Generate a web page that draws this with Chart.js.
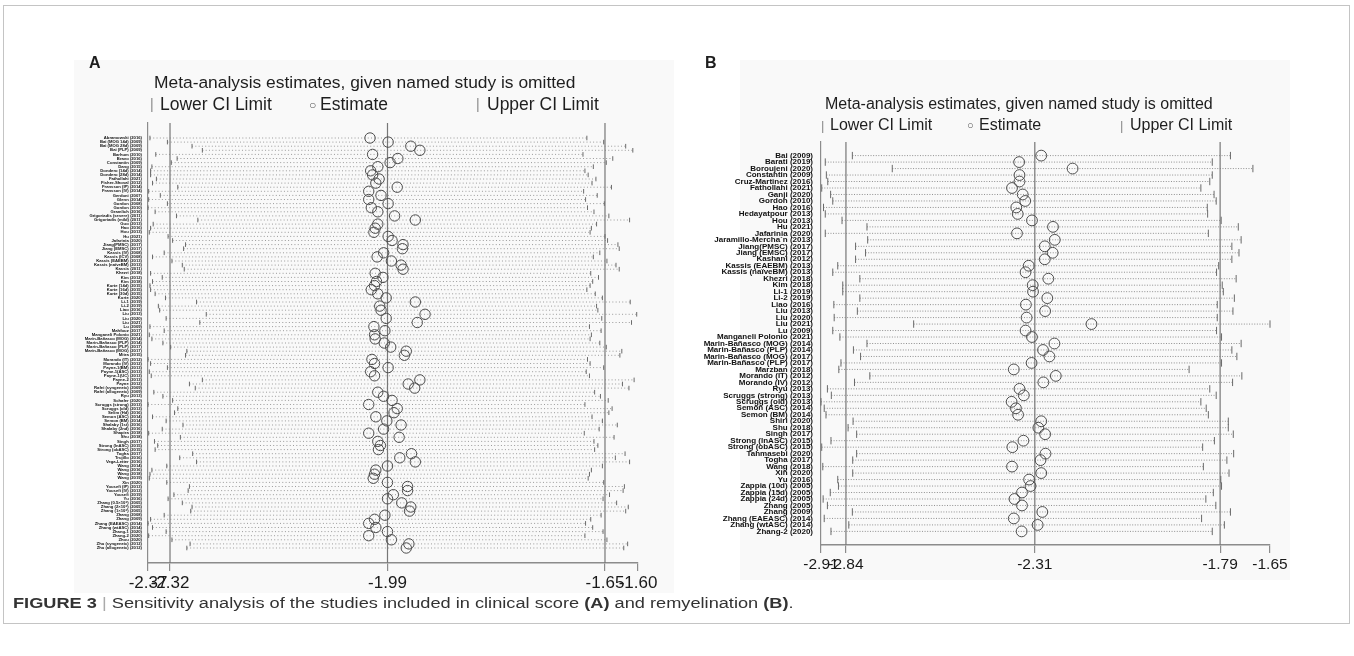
<!DOCTYPE html>
<html><head><meta charset="utf-8">
<script src="https://cdn.jsdelivr.net/npm/chart.js@4.4.1/dist/chart.umd.min.js"></script>
<style>
html,body{margin:0;padding:0;background:#fff;width:1354px;height:656px;overflow:hidden;position:relative;}
#frame{position:absolute;left:3px;top:5px;width:1347px;height:619px;border:1px solid #c4c4c4;box-sizing:border-box;}
.bg{position:absolute;background:#f9f9f9;}
canvas{position:absolute;left:0;top:0;}
.t{position:absolute;font-family:"Liberation Sans",Arial,sans-serif;color:#1e1e1e;white-space:nowrap;line-height:1;}
.mk{color:#8a8a8a;}
.cap{position:absolute;left:13px;top:596px;font-family:"Liberation Sans",Arial,sans-serif;font-size:14px;color:#333;white-space:nowrap;line-height:1;transform:scaleX(1.3);transform-origin:0 0;}
</style></head>
<body>
<div id="frame"></div>
<div class="bg" style="left:74px;top:60px;width:600px;height:533px;"></div>
<div class="bg" style="left:740px;top:60px;width:550px;height:520px;"></div>
<canvas id="cA" width="1354" height="656"></canvas>
<canvas id="cB" width="1354" height="656"></canvas>

<div class="t" style="left:89px;top:55px;font-size:16px;font-weight:bold;">A</div>
<div class="t" style="left:154px;top:74px;font-size:17.4px;">Meta-analysis estimates, given named study is omitted</div>
<div class="t mk" style="left:150px;top:97px;font-size:14px;">|</div>
<div class="t" style="left:160px;top:95.5px;font-size:17.5px;">Lower CI Limit</div>
<div class="t mk" style="left:309px;top:99px;font-size:12px;color:#555;">○</div>
<div class="t" style="left:320px;top:95.5px;font-size:17.5px;">Estimate</div>
<div class="t mk" style="left:476px;top:97px;font-size:14px;">|</div>
<div class="t" style="left:487px;top:95.5px;font-size:17.5px;">Upper CI Limit</div>

<div class="t" style="left:705px;top:55px;font-size:16px;font-weight:bold;">B</div>
<div class="t" style="left:825px;top:96px;font-size:16px;">Meta-analysis estimates, given named study is omitted</div>
<div class="t mk" style="left:821px;top:119px;font-size:13px;">|</div>
<div class="t" style="left:830px;top:117px;font-size:16px;">Lower CI Limit</div>
<div class="t mk" style="left:967px;top:120px;font-size:11px;color:#555;">○</div>
<div class="t" style="left:979px;top:117px;font-size:16px;">Estimate</div>
<div class="t mk" style="left:1120px;top:119px;font-size:13px;">|</div>
<div class="t" style="left:1130px;top:117px;font-size:16px;">Upper CI Limit</div>

<div class="cap"><b>FIGURE 3</b> <span style="color:#aaa">|</span> Sensitivity analysis of the studies included in clinical score <b>(A)</b> and remyelination <b>(B)</b>.</div>

<script>
// ---------- Panel A: clinical score ----------
const studiesA = [
"Abramowski (2016)","Bai (MOG 14d) (2009)","Bai (MOG 28d) (2009)","Bai (PLP) (2009)","Barhum (2010)",
"Bravo (2016)","Constantin (2009)","Dang (2015)","Dondero (14d) (2014)","Dondero (28d) (2014)",
"Fathollahi (2021)","Fisher-Shoval (2012)","Fransson (IP) (2014)","Fransson (IV) (2014)","Gerdoni (2007)",
"Glenn (2014)","Gordon (2008)","Gordon (2010)","Gramlich (2016)","Grigoriadis (severe) (2011)",
"Grigoriadis (mild) (2011)","Guo (2013)","Hao (2016)","Hou (2013)","Hu (2021)",
"Jafarinia (2020)","Jiang(PMSC) (2017)","Jiang (EMSC) (2017)","Kassis (IV) (2008)","Kassis (ICV) (2008)",
"Kassis (EAEBM) (2013)","Kassis (naïveBM) (2013)","Kassis (2011)","Khezri (2018)","Kim (2012)",
"Kim (2018)","Kurte (14d) (2015)","Kurte (16d) (2015)","Kurte (30d) (2015)","Kurte (2020)",
"Li-1 (2019)","Li-2 (2019)","Liao (2016)","Liu (2013)","Liu (2020)",
"Liu (2021)","Lu (2009)","Mahfouz (2017)","Manganeli Polonio (2021)","Marin-Bañasco (MOG) (2014)",
"Marin-Bañasco (PLP) (2014)","Marin-Bañasco (PLP) (2017)","Marin-Bañasco (MOG) (2017)","Mitra (2015)","Morando (IT) (2012)",
"Morando (IV) (2012)","Payne-1(BM) (2013)","Payne-1(ASC) (2013)","Payne-1(UC) (2013)","Payne-2 (2013)",
"Payne (2012)","Rafei (syngeneic) (2009)","Rafei (allogeneic) (2009)","Ryu (2013)","Schafer (2020)",
"Scruggs (strong) (2013)","Scruggs (old) (2013)","Selim (Hd) (2016)","Semon (ASC) (2014)","Semon (BM) (2014)",
"Shalaby (1st) (2016)","Shalaby (2nd) (2016)","Shapira (2018)","Shu (2018)","Singh (2017)",
"Strong (lnASC) (2015)","Strong (obASC) (2015)","Togha (2017)","Trujillo (2016)","Vega-Letter (2016)",
"Wang (2014)","Wang (2016)","Wang (2018)","Wang (2019)","Xin (2020)",
"Yousefi (IP) (2013)","Yousefi (IV) (2013)","Yousefi (2019)","Yu (2016)","Zhang (0.5×10⁶) (2005)",
"Zhang (2×10⁶) (2005)","Zhang (1×10⁶) (2005)","Zhang (2008)","Zhang (2009)","Zhang (EAEASC) (2014)",
"Zhang (wtASC) (2014)","Zhang-1 (2020)","Zhang-2 (2020)","Zhou (2020)","Zhu (syngeneic) (2012)",
"Zhu (allogeneic) (2012)"];
const estimateA = [-2.013,-1.985,-1.950,-1.936,-2.009,-1.970,-1.982,-2.001,-2.012,-2.009,
-1.999,-2.004,-1.971,-2.015,-1.996,-2.015,-1.985,-2.011,-2.001,-1.975,
-1.943,-2.001,-2.005,-2.007,-1.985,-1.979,-1.962,-1.963,-1.992,-2.002,
-1.980,-1.965,-1.962,-2.005,-1.993,-2.003,-2.006,-2.011,-2.001,-1.988,
-1.943,-1.998,-1.996,-1.928,-1.988,-1.940,-2.007,-1.990,-2.006,-2.005,
-1.991,-1.981,-1.957,-1.960,-2.010,-2.006,-1.985,-2.012,-2.006,-1.936,
-1.954,-1.944,-2.001,-1.992,-1.979,-2.015,-1.971,-1.976,-2.004,-1.987,
-1.965,-1.992,-2.015,-1.968,-2.001,-1.997,-2.000,-1.949,-1.967,-1.943,
-1.986,-2.004,-2.006,-2.008,-1.986,-1.955,-1.955,-1.977,-1.986,-1.964,
-1.950,-1.952,-1.990,-2.006,-2.015,-2.004,-1.986,-2.015,-1.980,-1.953,
-1.957];
const lowerA = [-2.353,-2.326,-2.288,-2.272,-2.344,-2.311,-2.320,-2.350,-2.352,-2.352,
-2.343,-2.349,-2.310,-2.355,-2.337,-2.355,-2.326,-2.356,-2.345,-2.312,
-2.279,-2.348,-2.352,-2.354,-2.325,-2.318,-2.298,-2.301,-2.331,-2.349,
-2.319,-2.303,-2.300,-2.352,-2.334,-2.349,-2.353,-2.352,-2.345,-2.329,
-2.281,-2.340,-2.338,-2.266,-2.328,-2.276,-2.353,-2.331,-2.354,-2.350,
-2.333,-2.321,-2.296,-2.298,-2.356,-2.352,-2.326,-2.354,-2.351,-2.272,
-2.292,-2.283,-2.347,-2.333,-2.318,-2.356,-2.310,-2.315,-2.349,-2.328,
-2.302,-2.334,-2.355,-2.306,-2.346,-2.341,-2.345,-2.287,-2.307,-2.281,
-2.327,-2.350,-2.353,-2.354,-2.327,-2.292,-2.294,-2.316,-2.325,-2.303,
-2.288,-2.290,-2.331,-2.352,-2.356,-2.349,-2.328,-2.355,-2.319,-2.291,
-2.296];
const upperA = [-1.678,-1.652,-1.618,-1.607,-1.684,-1.638,-1.648,-1.668,-1.681,-1.676,
-1.664,-1.670,-1.640,-1.683,-1.662,-1.680,-1.651,-1.677,-1.667,-1.644,
-1.612,-1.663,-1.671,-1.673,-1.650,-1.646,-1.630,-1.628,-1.658,-1.668,
-1.647,-1.633,-1.628,-1.672,-1.660,-1.669,-1.673,-1.678,-1.665,-1.654,
-1.611,-1.663,-1.661,-1.601,-1.655,-1.609,-1.674,-1.656,-1.671,-1.673,
-1.658,-1.648,-1.624,-1.627,-1.677,-1.673,-1.652,-1.679,-1.674,-1.605,
-1.623,-1.613,-1.666,-1.657,-1.645,-1.681,-1.639,-1.644,-1.670,-1.654,
-1.631,-1.659,-1.682,-1.636,-1.667,-1.661,-1.666,-1.619,-1.634,-1.612,
-1.654,-1.671,-1.674,-1.676,-1.652,-1.620,-1.622,-1.643,-1.653,-1.632,
-1.614,-1.618,-1.656,-1.672,-1.680,-1.669,-1.653,-1.681,-1.647,-1.615,
-1.621];
const overallA = [-2.322, -1.986, -1.650];          // pooled lower CI, estimate, upper CI
const tickValuesA = [-2.356, -2.322, -1.986, -1.650, -1.599];
const tickLabelsA = ["-2.37", "-2.32", "-1.99", "-1.65", "-1.60"];

// ---------- Panel B: remyelination ----------
const studiesB = [
"Bai (2009)","Barati (2019)","Boroujeni (2020)","Constantin (2009)","Cruz-Martinez (2016)",
"Fathollahi (2021)","Ganji (2020)","Gordon (2010)","Hao (2016)","Hedayatpour (2013)",
"Hou (2013)","Hu (2021)","Jafarinia (2020)","Jaramillo-Mercha´n (2013)","Jiang(PMSC) (2017)",
"Jiang (EMSC) (2017)","Kashani (2012)","Kassis (EAEBM) (2013)","Kassis (naïveBM) (2013)","Khezri (2018)",
"Kim (2018)","Li-1 (2019)","Li-2 (2019)","Liao (2016)","Liu (2013)",
"Liu (2020)","Liu (2021)","Lu (2009)","Manganeli Polonio (2021)","Marin-Bañasco (MOG) (2014)",
"Marin-Bañasco (PLP) (2014)","Marin-Bañasco (MOG) (2017)","Marin-Bañasco (PLP) (2017)","Marzban (2018)","Morando (IT) (2012)",
"Morando (IV) (2012)","Ryu (2013)","Scruggs (strong) (2013)","Scruggs (old) (2013)","Semon (ASC) (2014)",
"Semon (BM) (2014)","Shiri (2020)","Shu (2018)","Singh (2017)","Strong (lnASC) (2015)",
"Strong (obASC) (2015)","Tahmasebi (2020)","Togha (2017)","Wang (2018)","Xin (2020)",
"Yu (2016)","Zappia (10d) (2005)","Zappia (15d) (2005)","Zappia (24d) (2005)","Zhang (2005)",
"Zhang (2009)","Zhang (EAEASC) (2014)","Zhang (wtASC) (2014)","Zhang-2 (2020)"];
const estimateB = [-2.292,-2.354,-2.204,-2.353,-2.353,-2.374,-2.344,-2.337,-2.362,-2.358,
-2.318,-2.259,-2.360,-2.254,-2.282,-2.260,-2.282,-2.327,-2.336,-2.272,
-2.316,-2.315,-2.275,-2.335,-2.281,-2.333,-2.151,-2.336,-2.318,-2.255,
-2.287,-2.269,-2.319,-2.369,-2.251,-2.286,-2.353,-2.341,-2.375,-2.363,
-2.357,-2.292,-2.300,-2.281,-2.342,-2.373,-2.280,-2.294,-2.374,-2.292,
-2.326,-2.322,-2.346,-2.367,-2.346,-2.289,-2.369,-2.302,-2.347];
const lowerB = [-2.822,-2.898,-2.710,-2.895,-2.891,-2.908,-2.883,-2.877,-2.903,-2.898,
-2.851,-2.781,-2.898,-2.779,-2.813,-2.785,-2.813,-2.863,-2.877,-2.801,
-2.849,-2.849,-2.801,-2.874,-2.808,-2.873,-2.650,-2.877,-2.857,-2.781,
-2.819,-2.799,-2.854,-2.860,-2.773,-2.816,-2.892,-2.881,-2.910,-2.901,
-2.896,-2.820,-2.834,-2.810,-2.882,-2.908,-2.810,-2.821,-2.905,-2.821,
-2.863,-2.861,-2.884,-2.904,-2.892,-2.822,-2.901,-2.832,-2.882];
const upperB = [-1.761,-1.812,-1.698,-1.812,-1.819,-1.844,-1.807,-1.801,-1.826,-1.825,
-1.787,-1.739,-1.823,-1.731,-1.757,-1.737,-1.757,-1.794,-1.800,-1.745,
-1.784,-1.781,-1.750,-1.798,-1.754,-1.798,-1.650,-1.800,-1.786,-1.731,
-1.757,-1.743,-1.786,-1.877,-1.729,-1.755,-1.819,-1.801,-1.844,-1.829,
-1.823,-1.767,-1.767,-1.753,-1.806,-1.839,-1.752,-1.771,-1.837,-1.765,
-1.788,-1.786,-1.809,-1.830,-1.802,-1.761,-1.842,-1.778,-1.812];
const overallB = [-2.84, -2.31, -1.79];
const tickValuesB = [-2.91, -2.84, -2.31, -1.79, -1.65];
const tickLabelsB = ["-2.91", "-2.84", "-2.31", "-1.79", "-1.65"];

function buildChart(id, names, est, low, upp, overall, tickVals, tickLabels, st) {
  const ds = [];
  ds.push({data: est.map((v,i)=>({x:v,y:i})), pointStyle:'circle', pointRadius:st.r,
           pointBorderColor:'#4d4d4d', pointBackgroundColor:'rgba(0,0,0,0)', pointBorderWidth:1,
           showLine:false, clip:false, order:0});
  ds.push({data: low.map((v,i)=>({x:v,y:i})), pointStyle:'line', pointRotation:90, pointRadius:st.tickR,
           pointBorderColor:'#6a6a6a', pointBorderWidth:1, showLine:false, clip:false, order:1});
  ds.push({data: upp.map((v,i)=>({x:v,y:i})), pointStyle:'line', pointRotation:90, pointRadius:st.tickR,
           pointBorderColor:'#6a6a6a', pointBorderWidth:1, showLine:false, clip:false, order:1});
  overall.forEach(v => ds.push({data:[{x:v,y:st.ymin},{x:v,y:st.ymax}], showLine:true,
           borderColor:'#777', borderWidth:1.2, pointRadius:0, clip:false, order:2}));
  for (let i = 0; i < names.length; i++) {
    ds.push({data:[{x:low[i],y:i},{x:upp[i],y:i}], showLine:true, borderColor:st.dot,
             borderWidth:1, borderDash:st.dash, pointRadius:0, clip:false, order:3});
  }
  new Chart(document.getElementById(id), {
    type:'scatter',
    data:{datasets:ds},
    options:{
      responsive:false, animation:false, events:[], devicePixelRatio:1,
      layout:{padding:{left:st.padL, right:st.padR, top:st.padT, bottom:st.padB}},
      plugins:{legend:{display:false}, tooltip:{enabled:false}},
      scales:{
        x:{type:'linear', position:'bottom', min:tickVals[0], max:tickVals[tickVals.length-1],
           afterBuildTicks:s=>{ s.ticks = tickVals.map(v=>({value:v})); },
           afterFit:s=>{ s.height = 30; s.paddingLeft = 0; s.paddingRight = 0; },
           ticks:{autoSkip:false, maxRotation:0, minRotation:0, padding:2, color:'#1a1a1a',
                  font:{family:'"Liberation Sans", Arial, sans-serif', size:st.tickFont},
                  callback:(v,i)=>tickLabels[i]},
           grid:{display:true, drawOnChartArea:false, drawTicks:true, tickLength:8, color:'#8c8c8c', lineWidth:1.2},
           border:{display:true, color:'#8c8c8c', width:1.5}},
        y:{type:'linear', position:'left', reverse:true, min:st.ymin, max:st.ymax,
           afterBuildTicks:s=>{ s.ticks = names.map((_,i)=>({value:i})); },
           afterFit:s=>{ s.width = st.yw; s.paddingTop = 0; s.paddingBottom = 0; },
           ticks:{autoSkip:false, padding:st.yPad, color:'#111',
                  font:{family:'"Liberation Sans Narrow", "Liberation Sans", Arial, sans-serif', size:st.labelFont, weight:'bold'},
                  callback:(v)=>names[v]},
           grid:{display:false, drawTicks:false},
           border:{display:true, color:'#8c8c8c', width:1.2}}
      }
    }
  });
}

buildChart('cA', studiesA, estimateA, lowerA, upperA, overallA, tickValuesA, tickLabelsA,
  {r:5.2, tickR:2.3, dot:'#9a9a9a', dash:[1,2.3], ymin:-3.66, ymax:103.66,
   padL:0, yw:148, padR:716, padT:123, padB:63, tickFont:17, labelFont:4.2, yPad:6});
buildChart('cB', studiesB, estimateB, lowerB, upperB, overallB, tickValuesB, tickLabelsB,
  {r:5.4, tickR:3.7, dot:'#8f8f8f', dash:[1,1.6], ymin:-2.1, ymax:60.1,
   padL:700, yw:121, padR:84, padT:142, padB:81, tickFont:15.5, labelFont:8, yPad:8});
</script>
</body></html>
